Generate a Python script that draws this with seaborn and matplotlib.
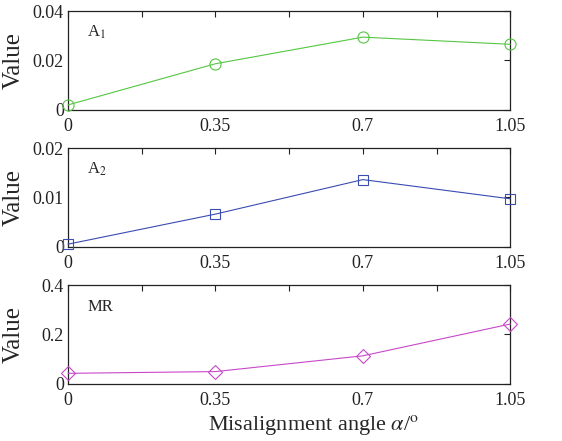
import pandas as pd
import seaborn as sns
import matplotlib.pyplot as plt

# values
angle = [0, 0.35, 0.7, 1.05]
a1_values = [0.0019, 0.0186, 0.0294, 0.0265]
a2_values = [0.0005, 0.0066, 0.0136, 0.0097]
mr_values = [0.042, 0.049, 0.113, 0.242]

panel_names = ['A$_1$', 'A$_2$', 'MR']
y_ticks = [[0, 0.02, 0.04], [0, 0.01, 0.02], [0, 0.2, 0.4]]
y_ticklabels = [['0', '0.02', '0.04'], ['0', '0.01', '0.02'], ['0', '0.2', '0.4']]
x_ticks = [0, 0.175, 0.35, 0.525, 0.7, 0.875, 1.05]
x_ticklabels = ['0', '', '0.35', '', '0.7', '', '1.05']
colors = ['#55c643', '#3a4cb2', '#c848c8']
markers = ['o', 's', 'D']
marker_sizes = [8, 6.5, 6.8]

sns.set_style('white')
plt.rcParams['font.family'] = ['Liberation Serif', 'DejaVu Serif']
plt.rcParams['mathtext.fontset'] = 'stix'

fig, axes = plt.subplots(3, 1, figsize=(5.62, 4.41), dpi=100)
fig.subplots_adjust(left=0.121, right=0.908, top=0.975, bottom=0.13, hspace=0.39)

series = [a1_values, a2_values, mr_values]
for i, ax in enumerate(axes):
    df = pd.DataFrame({'angle': angle, 'value': series[i]})
    sns.lineplot(data=df, x='angle', y='value', ax=ax, color=colors[i],
                 marker=markers[i], markersize=marker_sizes[i],
                 markerfacecolor='none', markeredgecolor=colors[i],
                 markeredgewidth=0.8, linewidth=0.8, clip_on=False, zorder=5)
    ax.set_xlim(0, 1.05)
    ax.set_ylim(0, y_ticks[i][-1])
    ax.set_xticks(x_ticks)
    ax.set_xticklabels(x_ticklabels)
    ax.set_yticks(y_ticks[i])
    ax.set_yticklabels(y_ticklabels[i])
    ax.tick_params(which='both', direction='in', top=True, right=True,
                   labelsize=13, colors='#222222', length=4, width=0.8, pad=3)
    ax.tick_params(axis='x', pad=6)
    for sp in ax.spines.values():
        sp.set_color('#222222')
        sp.set_linewidth(0.9)
    ax.set_ylabel('Value', fontsize=18)
    ax.yaxis.set_label_coords(-0.097, 0.5)
    ax.set_xlabel('')
    ax.text(0.043, 0.74, panel_names[i], transform=ax.transAxes, fontsize=12)

axes[2].set_xlabel(r'Misalignment angle $\alpha$/$^{\rm o}$', fontsize=16)
axes[2].xaxis.set_label_coords(0.555, -0.3)

plt.savefig('out.png', dpi=100)
